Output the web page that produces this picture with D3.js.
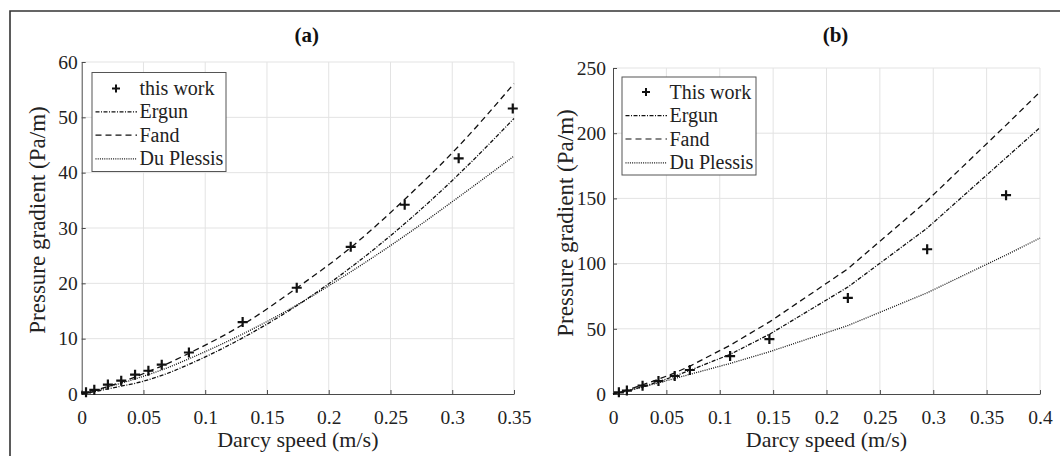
<!DOCTYPE html>
<html><head><meta charset="utf-8">
<script src="https://cdn.jsdelivr.net/npm/d3@7"></script>
</head>
<body style="margin:0;background:#fff">
<svg id="chart" width="1060" height="456" style="display:block"></svg>
<script>
// ---- Panel (a) data ----
const aWorkX = [0.0035, 0.0102, 0.0212, 0.032, 0.0432, 0.054, 0.0648, 0.0868, 0.1303, 0.1741, 0.2178, 0.2615, 0.3052, 0.349];
const aWorkY = [0.3, 0.75, 1.7, 2.4, 3.5, 4.2, 5.3, 7.5, 13.0, 19.2, 26.6, 34.2, 42.6, 51.6];
const aCurveX = [0, 0.0109, 0.0218, 0.0327, 0.0436, 0.0545, 0.0654, 0.0872, 0.1308, 0.1744, 0.218, 0.2616, 0.3052, 0.35];
const aErgun = [0, 0.45, 0.95, 1.45, 1.95, 2.6, 3.4, 5.4, 10.2, 16.0, 22.9, 30.8, 39.7, 49.8];
const aFand = [0, 0.68, 1.42, 2.2, 3.1, 4.1, 5.1, 7.4, 12.6, 19.2, 26.5, 35.2, 44.8, 56.1];
const aDuPlessis = [0, 0.6, 1.3, 2.0, 2.75, 3.55, 4.4, 6.4, 10.9, 16.1, 22.1, 28.6, 35.6, 43.0];
const aXTicks = [0, 0.05, 0.1, 0.15, 0.2, 0.25, 0.3, 0.35];
const aYTicks = [0, 10, 20, 30, 40, 50, 60];
const aLegend = ["this work", "Ergun", "Fand", "Du Plessis"];

// ---- Panel (b) data ----
const bWorkX = [0.0055, 0.013, 0.0277, 0.0426, 0.0578, 0.072, 0.1097, 0.1465, 0.22, 0.2943, 0.3682];
const bWorkY = [1.3, 2.6, 6.4, 9.9, 13.8, 18.4, 29.1, 42.1, 73.7, 111.0, 152.5];
const bCurveX = [0, 0.0147, 0.0294, 0.0441, 0.0588, 0.0735, 0.11, 0.147, 0.22, 0.294, 0.368, 0.4];
const bErgun = [0, 2.6, 6.0, 9.9, 14.0, 18.6, 30.5, 46.0, 82.0, 127.0, 181.0, 204.3];
const bFand = [0, 3.5, 7.5, 11.8, 16.5, 22, 37.5, 55.5, 96, 148, 206, 231.7];
const bDuPlessis = [0, 2.6, 5.6, 8.9, 12.1, 15.4, 23.5, 32.5, 52.5, 77.5, 106.5, 119.6];
const bXTicks = [0, 0.05, 0.1, 0.15, 0.2, 0.25, 0.3, 0.35, 0.4];
const bYTicks = [0, 50, 100, 150, 200, 250];
const bLegend = ["This work", "Ergun", "Fand", "Du Plessis"];

const xLabel = "Darcy speed (m/s)";
const yLabel = "Pressure gradient (Pa/m)";

const FONT = '"Liberation Serif"';
const svg = d3.select("#chart");

// outer frame (left & top edges visible)
svg.append("path").attr("d", "M10,456 L10,11 L1060,11")
  .attr("fill","none").attr("stroke","#333").attr("stroke-width",1.6);

const styles = {
  ergun: "4,1.5,1,1.5",
  fand: "6,4",
  du: "1,1.2"
};

function panel(cfg){
  const x = d3.scaleLinear().domain(cfg.xDomain).range([cfg.left, cfg.right]);
  const y = d3.scaleLinear().domain(cfg.yDomain).range([cfg.bottom, cfg.top]);
  const g = svg.append("g");

  // grid
  g.append("g").selectAll("line").data(cfg.xTicks.slice(1)).join("line")
    .attr("x1", d=>x(d)).attr("x2", d=>x(d)).attr("y1", cfg.bottom).attr("y2", cfg.top)
    .attr("stroke","#e3e3e3").attr("stroke-width",1);
  g.append("g").selectAll("line").data(cfg.yTicks.slice(1)).join("line")
    .attr("y1", d=>y(d)).attr("y2", d=>y(d)).attr("x1", cfg.left).attr("x2", cfg.right)
    .attr("stroke","#e3e3e3").attr("stroke-width",1);

  // axes
  const xAxis = d3.axisBottom(x).tickValues(cfg.xTicks).tickSizeInner(-4).tickSizeOuter(0)
    .tickPadding(16).tickFormat(d=>String(+d.toFixed(2)));
  const gx = g.append("g").attr("transform",`translate(0,${cfg.bottom})`).call(xAxis);
  const yAxis = d3.axisLeft(y).tickValues(cfg.yTicks).tickSizeInner(-4).tickSizeOuter(0)
    .tickPadding(cfg.yPad).tickFormat(d=>String(d));
  const gy = g.append("g").attr("transform",`translate(${cfg.left},0)`).call(yAxis);
  [gx, gy].forEach(a=>{
    a.select(".domain").attr("stroke","#4a4a4a").attr("stroke-width",1);
    a.selectAll(".tick line").attr("stroke","#4a4a4a");
    a.selectAll("text").style("font-family",FONT).style("font-size","19.5px").attr("fill","#222");
  });

  // axis labels
  g.append("text").attr("x",(cfg.left+cfg.right)/2).attr("y",447).attr("text-anchor","middle")
    .style("font-family",FONT).style("font-size","22px").attr("fill","#222").text(xLabel);
  g.append("text").attr("transform",`translate(${cfg.yLabelX},${cfg.yLabelY}) rotate(-90)`)
    .attr("text-anchor","middle").attr("dominant-baseline","middle")
    .style("font-family",FONT).style("font-size","23px").attr("fill","#222").text(yLabel);
  // title
  g.append("text").attr("x",(cfg.left+cfg.right)/2+9).attr("y",42).attr("text-anchor","middle")
    .style("font-family",FONT).style("font-size","21px").style("font-weight","bold")
    .attr("fill","#111").text(cfg.title);

  // curves
  const line = d3.line().x(d=>x(d[0])).y(d=>y(d[1])).curve(cfg.curve);
  const series = [
    {vals: cfg.ergun, dash: styles.ergun},
    {vals: cfg.fand, dash: styles.fand},
    {vals: cfg.du, dash: styles.du}
  ];
  series.forEach(s=>{
    g.append("path").datum(cfg.curveX.map((v,i)=>[v, s.vals[i]]))
      .attr("d", line).attr("fill","none").attr("stroke","#111")
      .attr("stroke-width",1.3).attr("stroke-dasharray", s.dash);
  });

  // markers
  const plus = (sel, cx, cy, r, w) => {
    sel.append("path").attr("d",`M${cx-r},${cy}H${cx+r}M${cx},${cy-r}V${cy+r}`)
      .attr("stroke","#111").attr("stroke-width",w).attr("fill","none");
  };
  const mg = g.append("g");
  cfg.workX.forEach((v,i)=>plus(mg, x(v), y(cfg.workY[i]), 5, 2.2));

  // legend
  const L = cfg.legend;
  const lg = g.append("g");
  lg.append("rect").attr("x",L.x).attr("y",L.y).attr("width",L.w).attr("height",L.h)
    .attr("fill","#fff").attr("stroke","#555").attr("stroke-width",1);
  const rows = L.rows;
  cfg.legendLabels.forEach((lab,i)=>{
    const cy = rows[i];
    if(i===0){ plus(lg, L.x+24, cy, 4, 2); }
    else {
      lg.append("line").attr("x1",L.x+3.5).attr("x2",L.x+45).attr("y1",cy).attr("y2",cy)
        .attr("stroke","#111").attr("stroke-width",1.2)
        .attr("stroke-dasharray",[styles.ergun,styles.fand,styles.du][i-1]);
    }
    lg.append("text").attr("x",L.x+47.5).attr("y",cy+6.5)
      .style("font-family",FONT).style("font-size","20px")
      .attr("fill","#222").text(lab);
  });
}

panel({
  xDomain:[0,0.35], yDomain:[0,60], left:81.7, right:514, top:62, bottom:394,
  xTicks:aXTicks, yTicks:aYTicks, yPad:4, yLabelX:40, yLabelY:220, title:"(a)",
  workX:aWorkX, workY:aWorkY, curveX:aCurveX, ergun:aErgun, fand:aFand, du:aDuPlessis,
  curve:d3.curveMonotoneX, legendLabels:aLegend,
  legend:{x:92, y:72.5, w:134, h:99, rows:[88.6,111.8,135.2,158.9]}
});
panel({
  xDomain:[0,0.4], yDomain:[0,250], left:613, right:1040, top:68, bottom:394,
  xTicks:bXTicks, yTicks:bYTicks, yPad:7, yLabelX:568, yLabelY:223, title:"(b)",
  workX:bWorkX, workY:bWorkY, curveX:bCurveX, ergun:bErgun, fand:bFand, du:bDuPlessis,
  curve:d3.curveLinear, legendLabels:bLegend,
  legend:{x:622, y:77, w:134, h:98, rows:[92,115.6,139,162.8]}
});
</script></body></html>
